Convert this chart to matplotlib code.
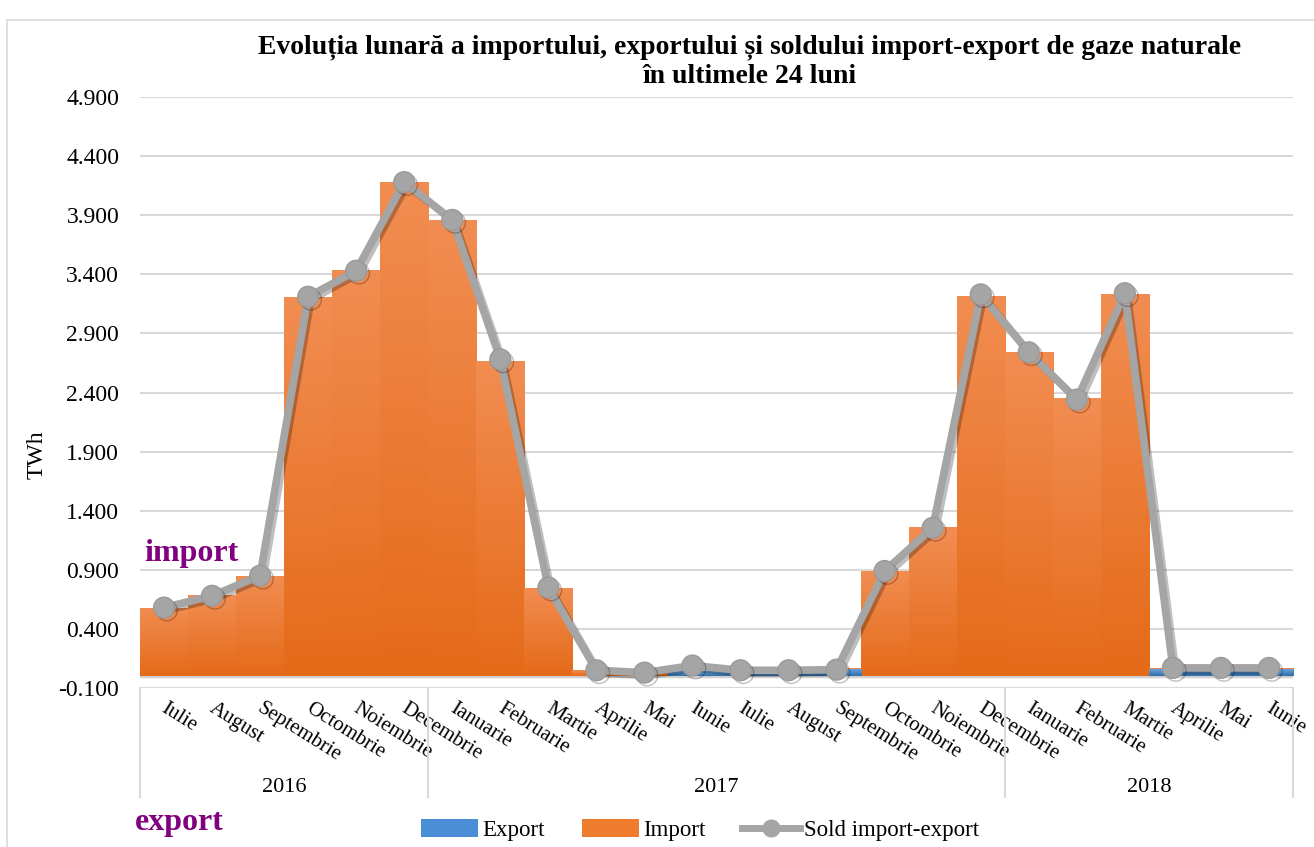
import matplotlib
matplotlib.use('Agg')
import matplotlib.pyplot as plt
import matplotlib.transforms as mtransforms
import matplotlib.patheffects as pe
import numpy as np
from matplotlib.colors import LinearSegmentedColormap
from matplotlib.patches import Patch, Rectangle
from matplotlib.lines import Line2D

plt.rcParams['font.family'] = ['Liberation Serif', 'DejaVu Serif']

# data (TWh)
months = ['Iulie', 'August', 'Septembrie', 'Octombrie', 'Noiembrie', 'Decembrie',
          'Ianuarie', 'Februarie', 'Martie', 'Aprilie', 'Mai', 'Iunie',
          'Iulie', 'August', 'Septembrie', 'Octombrie', 'Noiembrie', 'Decembrie',
          'Ianuarie', 'Februarie', 'Martie', 'Aprilie', 'Mai', 'Iunie']
years = ['2016', '2017', '2018']
year_counts = [6, 12, 6]

import_vals = [0.58, 0.69, 0.85, 3.21, 3.44, 4.18, 3.86, 2.67, 0.75, 0.05, 0.03, 0.02,
               0.02, 0.02, 0.07, 0.89, 1.26, 3.22, 2.74, 2.35, 3.23, 0.07, 0.07, 0.07]
export_vals = [0.0, 0.0, 0.0, 0.0, 0.0, 0.0, 0.0, 0.0, 0.0, 0.0, 0.0, 0.04,
               0.04, 0.04, 0.06, 0.0, 0.0, 0.0, 0.0, 0.0, 0.0, 0.06, 0.06, 0.06]
sold_vals = [0.58, 0.68, 0.85, 3.21, 3.43, 4.18, 3.86, 2.68, 0.75, 0.05, 0.03, 0.09,
             0.05, 0.05, 0.055, 0.89, 1.255, 3.23, 2.74, 2.34, 3.24, 0.07, 0.07, 0.07]

title = ('Evoluția lunară a importului, exportului și soldului import-export de gaze naturale\n'
         'în ultimele 24 luni')

FS = 17


def gradient_bars(ax, bars, top_color, bottom_color, z):
    # fill each bar with a vertical gradient, like the excel style
    cmap = LinearSegmentedColormap.from_list('g', [bottom_color, top_color])
    grad = np.linspace(0, 1, 256).reshape(-1, 1)
    for b in bars:
        x0, y0 = b.get_x(), b.get_y()
        w, h = b.get_width(), b.get_height()
        b.set_facecolor('none')
        b.set_edgecolor('none')
        if h <= 0:
            continue
        im = ax.imshow(grad, extent=[x0, x0 + w, y0, y0 + h], origin='lower',
                       aspect='auto', cmap=cmap, zorder=z, interpolation='bilinear')
        im.set_clip_path(b)


fig = plt.figure(figsize=(13.14, 8.47), dpi=100)
ax = fig.add_axes([140 / 1314, 1 - 688 / 847, 1153 / 1314, 591 / 847])

x = np.arange(len(months))
imp_bars = ax.bar(x, import_vals, width=1.0, zorder=3)
exp_bars = ax.bar(x, export_vals, width=1.0, zorder=4)
gradient_bars(ax, imp_bars, '#f28d52', '#e46a18', 3)
gradient_bars(ax, exp_bars, '#6ea9e0', '#2f6dab', 4)

ax.plot(x, sold_vals, color='#a5a5a5', lw=5.5, marker='o', ms=15,
        mfc='#a5a5a5', mec='#9a9a9a', zorder=6,
        path_effects=[pe.SimpleLineShadow(offset=(2, -2), alpha=0.25), pe.Normal()])

ax.axhline(0, color='#d0d0d0', lw=2.5, zorder=2)

ax.set_xlim(-0.5, len(months) - 0.5)
ax.set_ylim(-0.1, 4.9)
yt = np.arange(-0.1, 4.95, 0.5)
ax.set_yticks(yt)
ax.set_yticklabels([f'{t:.3f}' for t in yt], fontsize=FS)
ax.yaxis.grid(True, color='#d9d9d9', lw=1.5)
ax.set_axisbelow(True)
for s in ax.spines.values():
    s.set_visible(False)
ax.tick_params(axis='both', length=0)
ax.tick_params(axis='y', pad=15)

ax.set_xticks(x)
ax.set_xticklabels(months, fontsize=15, rotation=-32, ha='left', va='top',
                   rotation_mode='anchor')
ax.tick_params(axis='x', pad=8)
shift = mtransforms.ScaledTranslation(4 / 100, 0, fig.dpi_scale_trans)
for lab in ax.get_xticklabels():
    lab.set_transform(lab.get_transform() + shift)

# year grouping under the month labels
trans = mtransforms.blended_transform_factory(ax.transData, ax.transAxes)
bounds = np.concatenate([[0], np.cumsum(year_counts)]) - 0.5
for b in bounds:
    ax.plot([b, b], [0, -0.184], transform=trans, color='#d9d9d9', lw=1.5, clip_on=False)
for i, yr in enumerate(years):
    ax.text((bounds[i] + bounds[i + 1]) / 2, -0.169, yr, transform=trans,
            ha='center', va='center', fontsize=16)

fig.text(37 / 1314, 1 - 455 / 847, 'TWh', rotation=90, ha='center', va='center', fontsize=FS)
fig.text(750 / 1314, 1 - 62 / 847, title, ha='center', va='center', fontsize=20,
         weight='bold', linespacing=1.2)

fig.text(144 / 1314, 1 - 553 / 847, 'import', ha='left', va='center', fontsize=23,
         weight='bold', color='#800080')
fig.text(135 / 1314, 1 - 822 / 847, 'export', ha='left', va='center', fontsize=23,
         weight='bold', color='#800080')

# chart border
fig.patches.append(Rectangle((7 / 1314, -0.01), 1.0, 1 - 20 / 847 + 0.01,
                             transform=fig.transFigure, fill=False,
                             edgecolor='#d9d9d9', lw=1.2))

handles = [Patch(facecolor='#4a8fd6'), Patch(facecolor='#ef7b2c'),
           Line2D([], [], color='#a5a5a5', lw=5, marker='o', ms=12)]
fig.legend(handles, ['Export', 'Import', 'Sold import-export'], loc='center',
           bbox_to_anchor=(700 / 1314, 1 - 830 / 847), ncol=3, frameon=False,
           fontsize=16.5, handlelength=2.5, handleheight=0.8, columnspacing=1.6,
           handletextpad=0.2)

fig.savefig('out.png', dpi=100)
